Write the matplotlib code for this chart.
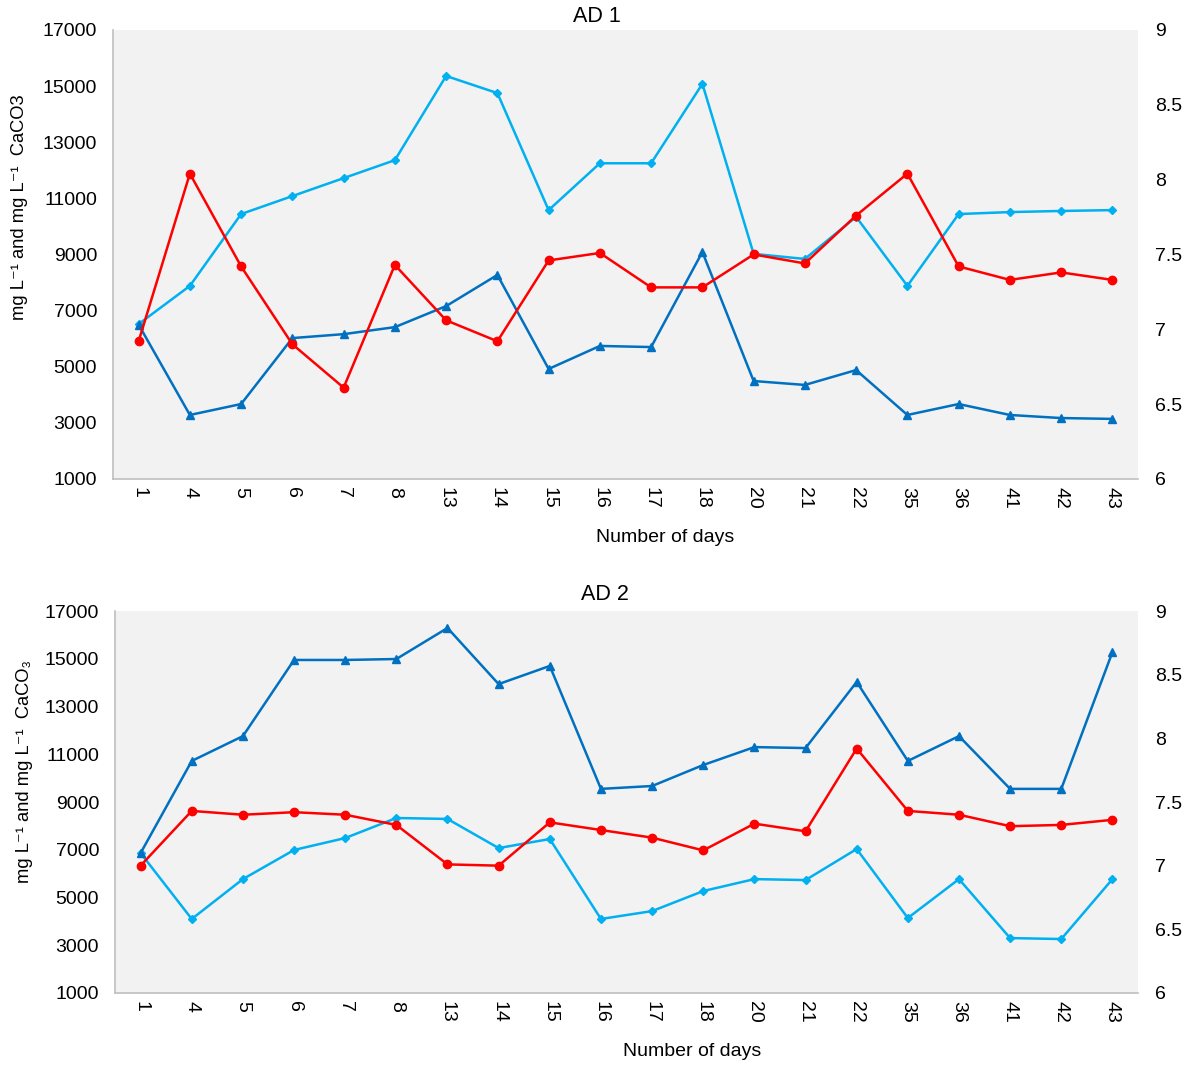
import matplotlib
matplotlib.use("Agg")
import matplotlib.pyplot as plt

plt.rcParams['font.family'] = ['Liberation Sans', 'DejaVu Sans']

days = ["1", "4", "5", "6", "7", "8", "13", "14", "15", "16", "17", "18",
        "20", "21", "22", "35", "36", "41", "42", "43"]

# AD 1
ad1_light = [6520, 7880, 10440, 11080, 11720, 12360, 15360, 14750, 10580, 12250,
             12250, 15080, 9020, 8840, 10340, 7880, 10440, 10510, 10550, 10580]
ad1_dark = [6500, 3280, 3670, 6020, 6160, 6410, 7160, 8270, 4920, 5740,
            5700, 9090, 4490, 4350, 4880, 3280, 3670, 3280, 3170, 3140]
ad1_ph = [6.92, 8.04, 7.42, 6.90, 6.61, 7.43, 7.06, 6.92, 7.46, 7.51,
          7.28, 7.28, 7.50, 7.44, 7.76, 8.04, 7.42, 7.33, 7.38, 7.33]

# AD 2
ad2_light = [6860, 4100, 5770, 6990, 7490, 8330, 8290, 7070, 7450, 4100,
             4430, 5270, 5770, 5730, 7030, 4140, 5770, 3300, 3260, 5770]
ad2_dark = [6860, 10720, 11760, 14950, 14950, 14990, 16290, 13940, 14700, 9550,
            9670, 10550, 11300, 11260, 14030, 10720, 11760, 9550, 9550, 15280]
ad2_ph = [7.00, 7.43, 7.40, 7.42, 7.40, 7.32, 7.01, 7.00, 7.34, 7.28,
          7.22, 7.12, 7.33, 7.27, 7.92, 7.43, 7.40, 7.31, 7.32, 7.36]

LIGHT = "#00B0F0"
DARK = "#0070C0"
RED = "#FF0000"
GRID = "#BFBFBF"
BG = "#F2F2F2"

W, H = 1192, 1066
fig = plt.figure(figsize=(W / 100, H / 100), dpi=100)


def px(x, y):
    # pixel position -> figure fraction
    return x / W, 1 - y / H


def draw_panel(rect, title, light, dark, ph, ylabel, title_xy, xlab_xy, ylab_xy):
    ax = fig.add_axes(rect)
    ax.set_facecolor(BG)
    x = range(len(days))
    ax.plot(x, light, color=LIGHT, marker="D", markersize=4, linewidth=1.8, zorder=3)
    ax.plot(x, dark, color=DARK, marker="^", markersize=5.5, linewidth=1.8, zorder=3)
    ax.set_ylim(1000, 17000)
    ax.set_yticks(range(1000, 17001, 2000))
    ax.set_xlim(-0.5, len(days) - 0.5)
    ax.set_xticks(list(x))
    ax.set_xticklabels(days, rotation=-90)
    ax.tick_params(axis="both", length=0, labelsize=14, pad=6)
    ax.tick_params(axis="y", pad=11.5)
    for s in ["top", "right"]:
        ax.spines[s].set_visible(False)
    for s in ["left", "bottom"]:
        ax.spines[s].set_color(GRID)
        ax.spines[s].set_linewidth(1.2)

    ax2 = ax.twinx()
    ax2.plot(x, ph, color=RED, marker="o", markersize=6, linewidth=1.8, zorder=4)
    ax2.set_ylim(6, 9)
    ax2.set_yticks([6, 6.5, 7, 7.5, 8, 8.5, 9])
    ax2.set_yticklabels(["6", "6.5", "7", "7.5", "8", "8.5", "9"])
    ax2.tick_params(axis="y", length=0, labelsize=14, pad=12)
    for s in ["top", "right", "left", "bottom"]:
        ax2.spines[s].set_visible(False)

    fig.text(*px(*title_xy), title, fontsize=15.5, ha="center", va="center")
    fig.text(*px(*xlab_xy), "Number of days", fontsize=14, ha="center", va="center")
    fig.text(*px(*ylab_xy), ylabel, fontsize=13.2, ha="center", va="center",
             rotation=90)
    return ax


draw_panel([0.0948, 0.5507, 0.8599, 0.4212], "AD 1", ad1_light, ad1_dark, ad1_ph,
           "mg L⁻¹ and mg L⁻¹  CaCO3", (597, 16), (665, 537), (20, 207))
draw_panel([0.0965, 0.0685, 0.8582, 0.3583], "AD 2", ad2_light, ad2_dark, ad2_ph,
           "mg L⁻¹ and mg L⁻¹  CaCO₃", (605, 595), (692, 1052), (25, 772))

fig.savefig("out.png", dpi=100)
